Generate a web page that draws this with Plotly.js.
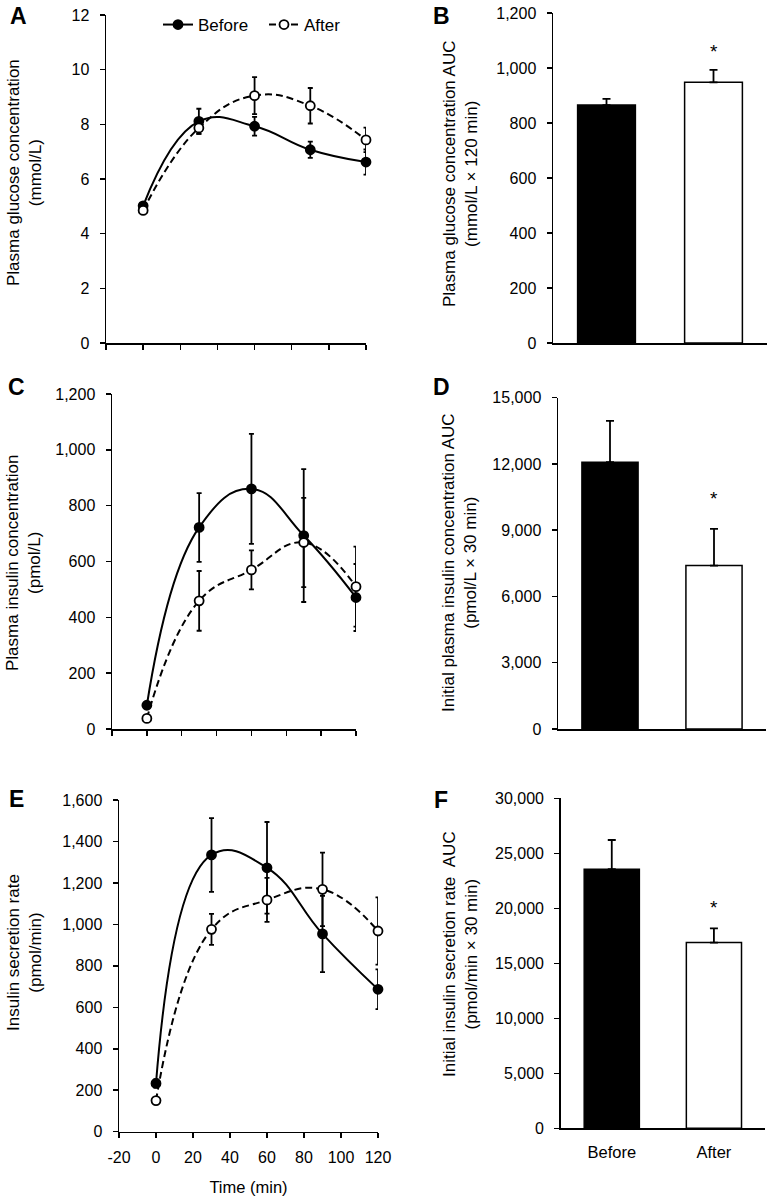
<!DOCTYPE html>
<html>
<head>
<meta charset="utf-8">
<script src="https://cdn.plot.ly/plotly-3.0.1.min.js"></script>
<style>html,body{margin:0;padding:0;background:#fff;}#chart{width:773px;height:1197px;}</style>
</head>
<body>
<div id="chart"></div>
<script>
// ---- Data ----
const timeMin = [0, 30, 60, 90, 120];
const xTickVals = [-20, 0, 20, 40, 60, 80, 100, 120];
const xTickText = ['-20', '0', '20', '40', '60', '80', '100', '120'];

const glucoseBefore    = [5.02, 8.11, 7.93, 7.07, 6.62];
const glucoseBeforeErr = [0.10, 0.46, 0.34, 0.30, 0.46];
const glucoseAfter     = [4.85, 7.87, 9.05, 8.68, 7.43];
const glucoseAfterErr  = [0.10, 0.22, 0.68, 0.65, 0.45];

const insulinBefore    = [85, 722, 860, 693, 471];
const insulinBeforeErr = [10, 123, 197, 238, 120];
const insulinAfter     = [38, 459, 570, 668, 510];
const insulinAfterErr  = [8, 107, 70, 160, 143];

const isrBefore    = [233, 1335, 1273, 954, 687];
const isrBeforeErr = [20, 178, 221, 184, 96];
const isrAfter     = [150, 976, 1118, 1169, 968];
const isrAfterErr  = [15, 75, 106, 177, 162];

const groups = ['Before', 'After'];
const glucoseAUC    = [865, 948];
const glucoseAUCErr = [23, 45];
const insulinAUC    = [12080, 7400];
const insulinAUCErr = [1870, 1660];
const isrAUC        = [23550, 16880];
const isrAUCErr     = [2660, 1300];

// ---- Helpers ----
const W = 773, H = 1197;
const px = v => v / W;
const py = v => 1 - v / H;
const FONT = 'Liberation Sans, Arial, sans-serif';
const TF = 17;   // y titles
const KF = 16;   // tick labels

function lineTrace(y, err, filled, xa, ya, name, legend) {
  return {
    type: 'scatter', mode: 'lines+markers', x: timeMin, y: y, name: name,
    xaxis: xa, yaxis: ya, showlegend: legend, cliponaxis: false,
    line: {color: 'black', width: 2, shape: 'spline', smoothing: 1.25, dash: filled ? 'solid' : '7px,4px'},
    marker: {size: 9, color: filled ? 'black' : 'white', line: {color: 'black', width: 1.8}},
    error_y: {type: 'data', array: err, visible: true, color: 'black', thickness: 1.8, width: 2.5}
  };
}
function barTrace(y, err, xa, ya) {
  return {
    type: 'bar', x: groups, y: y, xaxis: xa, yaxis: ya, showlegend: false, width: 0.54,
    cliponaxis: false,
    marker: {color: ['black', 'white'], line: {color: 'black', width: 1.5}},
    error_y: {type: 'data', symmetric: false, array: err, arrayminus: err.map(() => 0),
              visible: true, color: 'black', thickness: 1.8, width: 4}
  };
}

const data = [
  lineTrace(glucoseBefore, glucoseBeforeErr, true, 'x', 'y', 'Before', true),
  lineTrace(glucoseAfter, glucoseAfterErr, false, 'x', 'y', 'After', true),
  barTrace(glucoseAUC, glucoseAUCErr, 'x2', 'y2'),
  lineTrace(insulinBefore, insulinBeforeErr, true, 'x3', 'y3', 'Before', false),
  lineTrace(insulinAfter, insulinAfterErr, false, 'x3', 'y3', 'After', false),
  barTrace(insulinAUC, insulinAUCErr, 'x4', 'y4'),
  lineTrace(isrBefore, isrBeforeErr, true, 'x5', 'y5', 'Before', false),
  lineTrace(isrAfter, isrAfterErr, false, 'x5', 'y5', 'After', false),
  barTrace(isrAUC, isrAUCErr, 'x6', 'y6')
];

const axBase = {
  showline: true, linecolor: 'black', linewidth: 1.5, ticks: 'outside', ticklen: 5,
  tickwidth: 1.5, tickcolor: 'black', showgrid: false, zeroline: false, fixedrange: true,
  ticklabelstandoff: 6,
  tickfont: {family: FONT, size: KF, color: 'black'}
};
function timeAxis(x0, x1, labels, anchor) {
  return Object.assign({}, axBase, {domain: [px(x0), px(x1)], range: [-20, 120],
    tickvals: xTickVals, ticktext: xTickText, showticklabels: labels, anchor: anchor});
}
function barXAxis(x0, x1, labels, anchor) {
  return Object.assign({}, axBase, {domain: [px(x0), px(x1)], type: 'category',
    range: [-0.5, 1.5], ticks: '', showticklabels: labels, anchor: anchor,
    tickfont: {family: FONT, size: 16.5, color: 'black'}, ticklabelstandoff: 8});
}
function yAxis(y0, y1, max, dtick, anchor) {
  return Object.assign({}, axBase, {domain: [py(y1), py(y0)], range: [0, max], dtick: dtick,
    tickformat: ',d', anchor: anchor, ticklabelstandoff: 7});
}

function yTitle(x, y, text) {
  return {xref: 'paper', yref: 'paper', x: px(x), y: py(y), text: text, textangle: -90,
    showarrow: false, xanchor: 'center', yanchor: 'middle',
    font: {family: FONT, size: TF, color: 'black'}};
}
function letter(x, y, t) {
  return {xref: 'paper', yref: 'paper', x: px(x), y: py(y), text: '<b>' + t + '</b>',
    showarrow: false, xanchor: 'center', yanchor: 'middle',
    font: {family: FONT, size: 23, color: 'black'}};
}
function star(xa, ya, y, shift) {
  return {xref: xa, yref: ya, x: 'After', y: y, text: '*', showarrow: false,
    yanchor: 'bottom', yshift: shift, font: {family: FONT, size: 19, color: 'black'}};
}

const layout = {
  width: W, height: H, margin: {l: 0, r: 0, t: 0, b: 0},
  paper_bgcolor: 'white', plot_bgcolor: 'white',
  font: {family: FONT, size: TF, color: 'black'},
  xaxis: timeAxis(106, 366, false, 'y'),
  yaxis: yAxis(15, 343, 12, 2, 'x'),
  xaxis2: barXAxis(553, 767, false, 'y2'),
  yaxis2: yAxis(13, 343, 1200, 200, 'x2'),
  xaxis3: timeAxis(112, 356, false, 'y3'),
  yaxis3: yAxis(394, 729, 1200, 200, 'x3'),
  xaxis4: barXAxis(558, 766, false, 'y4'),
  yaxis4: yAxis(397.7, 729, 15000, 3000, 'x4'),
  xaxis5: Object.assign(timeAxis(119, 378, true, 'y5'),
    {title: {text: 'Time (min)', font: {family: FONT, size: 16.5, color: 'black'}, standoff: 16}}),
  yaxis5: yAxis(800, 1131.7, 1600, 200, 'x5'),
  xaxis6: barXAxis(560.7, 765, true, 'y6'),
  yaxis6: yAxis(798.3, 1128.3, 30000, 5000, 'x6'),
  legend: {orientation: 'h', x: px(158), y: py(25), xanchor: 'left', yanchor: 'middle',
    bgcolor: 'rgba(0,0,0,0)', font: {family: FONT, size: TF, color: 'black'}, itemwidth: 30,
    entrywidth: 61, tracegroupgap: 0},
  annotations: [
    letter(18, 16, 'A'), letter(442, 16, 'B'), letter(16, 387, 'C'),
    letter(442, 387, 'D'), letter(16, 799, 'E'), letter(441, 800, 'F'),
    yTitle(24, 173, 'Plasma glucose concentration<br>(mmol/L)'),
    yTitle(460, 174, 'Plasma glucose concentration AUC<br>(mmol/L × 120 min)'),
    yTitle(24, 563, 'Plasma insulin concentration<br>(pmol/L)'),
    yTitle(460, 563, 'Initial plasma insulin concentration AUC<br>(pmol/L × 30 min)'),
    yTitle(24, 953, 'Insulin secretion rate<br>(pmol/min)'),
    yTitle(460, 954, 'Initial insulin secretion rate \u00a0AUC<br>(pmol/min × 30 min)'),
    star('x2', 'y2', glucoseAUC[1] + glucoseAUCErr[1], 6),
    star('x4', 'y4', insulinAUC[1] + insulinAUCErr[1], 18),
    star('x6', 'y6', isrAUC[1] + isrAUCErr[1], 8)
  ]
};

Plotly.newPlot('chart', data, layout, {staticPlot: true, displayModeBar: false});
</script>
</body>
</html>
